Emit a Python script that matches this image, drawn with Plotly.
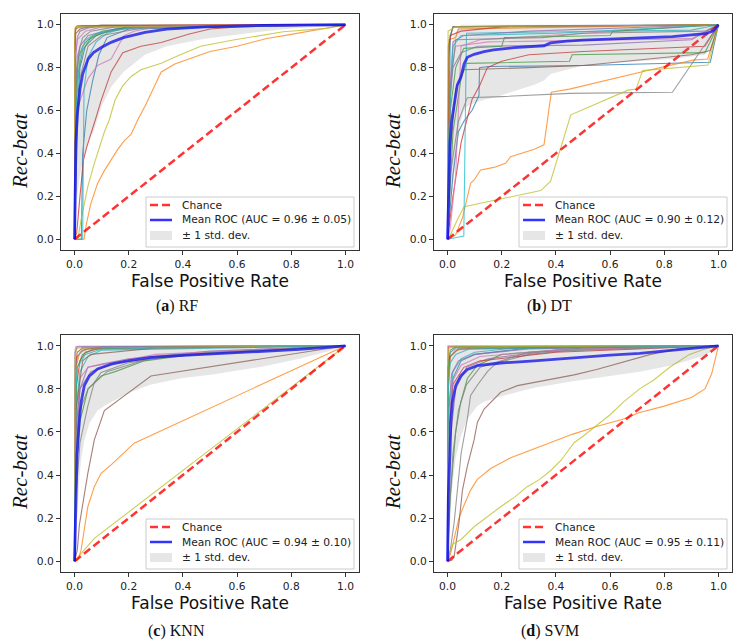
import plotly.graph_objects as go

# ---------------- data ----------------
tick_values = [0.0, 0.2, 0.4, 0.6, 0.8, 1.0]
panel_captions = ["(<b>a</b>) RF", "(<b>b</b>) DT", "(<b>c</b>) KNN", "(<b>d</b>) SVM"]
auc_mean = [0.96, 0.90, 0.94, 0.95]
auc_std = [0.05, 0.12, 0.10, 0.11]
chance_x = [0, 1]
chance_y = [0, 1]
fold_colors = ['#1f77b4', '#ff7f0e', '#2ca02c', '#d62728', '#9467bd',
               '#8c564b', '#e377c2', '#7f7f7f', '#bcbd22', '#17becf']

# ---- (a) RF ----
rf_fold_fpr = [
    [0, 0.025, 0.03, 0.045, 0.067, 0.09, 0.12, 0.2, 1],
    [0, 0.035, 0.045, 0.061, 0.085, 0.11, 0.135, 0.16, 0.184, 0.209, 0.233, 0.26, 0.29, 0.32, 0.37, 0.5, 0.6, 0.71, 0.8, 0.89, 0.95, 1],
    [0, 0.003, 0.01, 0.03, 0.06, 0.1, 0.2, 1],
    [0, 0.008, 0.02, 0.033, 0.045, 0.061, 0.08, 0.098, 0.135, 0.178, 0.245, 0.32, 0.42, 0.5, 0.6, 1],
    [0, 0.002, 0.01, 0.02, 0.05, 0.1, 1],
    [0, 0.002, 0.005, 0.02, 0.05, 0.1, 1],
    [0, 0.005, 0.01, 0.024, 0.05, 0.085, 0.135, 0.165, 0.184, 0.22, 0.3, 1],
    [0, 0.003, 0.01, 0.03, 0.06, 0.15, 1],
    [0, 0.012, 0.024, 0.049, 0.073, 0.098, 0.11, 0.128, 0.15, 0.178, 0.21, 0.245, 0.32, 0.39, 0.466, 0.586, 0.77, 0.93, 1],
    [0, 0.03, 0.035, 0.05, 0.08, 0.12, 0.2, 1],
    [0, 0.01, 0.02, 0.04, 0.08, 0.15, 0.3, 1],
    [0, 0.002, 0.005, 0.01, 0.03, 1],
    [0, 0.005, 0.015, 0.03, 0.05, 0.1, 0.2, 1],
    [0, 0.001, 0.003, 0.01, 1],
    [0, 0.005, 0.02, 0.05, 0.12, 0.25, 1],
    [0, 0.001, 0.005, 0.02, 1],
    [0, 0.002, 0.01, 0.04, 0.1, 1],
    [0, 0.01, 0.02, 0.05, 0.1, 0.25, 1],
    [0, 0.001, 0.004, 1],
    [0, 0.008, 0.02, 0.04, 0.08, 0.2, 1],
]
rf_fold_tpr = [
    [0, 0, 0.4, 0.6, 0.74, 0.86, 0.94, 0.98, 1],
    [0, 0, 0.08, 0.17, 0.26, 0.32, 0.37, 0.42, 0.46, 0.49, 0.556, 0.62, 0.7, 0.78, 0.817, 0.875, 0.9, 0.936, 0.955, 0.975, 0.99, 1],
    [0, 0.5, 0.75, 0.88, 0.94, 0.97, 0.99, 1],
    [0, 0.03, 0.2, 0.37, 0.43, 0.49, 0.57, 0.646, 0.78, 0.87, 0.9, 0.917, 0.956, 0.98, 0.99, 1],
    [0, 0.8, 0.94, 0.97, 0.985, 0.995, 1],
    [0, 0.9, 0.96, 0.98, 0.99, 0.998, 1],
    [0, 0.4, 0.6, 0.66, 0.75, 0.81, 0.84, 0.91, 0.95, 0.97, 0.99, 1],
    [0, 0.7, 0.85, 0.94, 0.97, 0.99, 1],
    [0, 0, 0.09, 0.245, 0.354, 0.46, 0.5, 0.556, 0.65, 0.716, 0.76, 0.79, 0.82, 0.86, 0.9, 0.929, 0.967, 0.983, 1],
    [0, 0, 0.7, 0.85, 0.92, 0.96, 0.99, 1],
    [0, 0.6, 0.8, 0.9, 0.95, 0.98, 0.995, 1],
    [0, 0.95, 0.98, 0.99, 0.995, 1],
    [0, 0.7, 0.85, 0.9, 0.93, 0.96, 0.99, 1],
    [0, 0.97, 0.985, 0.995, 1],
    [0, 0.75, 0.9, 0.95, 0.97, 0.99, 1],
    [0, 0.96, 0.98, 0.99, 1],
    [0, 0.85, 0.93, 0.97, 0.99, 1],
    [0, 0.5, 0.75, 0.9, 0.95, 0.985, 1],
    [0, 0.98, 0.99, 1],
    [0, 0.65, 0.85, 0.93, 0.96, 0.985, 1],
]
rf_grid = [0, 0.005, 0.01, 0.02, 0.03, 0.04, 0.05, 0.07, 0.1, 0.135, 0.18, 0.26, 0.34, 0.48, 0.6, 0.7, 0.8, 0.9, 1]
rf_mean = [0, 0.45, 0.58, 0.7, 0.77, 0.81, 0.84, 0.87, 0.895, 0.918, 0.94, 0.964, 0.98, 0.99, 0.995, 0.997, 0.998, 0.999, 1]
rf_lower = [0, 0.1, 0.2, 0.3, 0.37, 0.42, 0.46, 0.5, 0.62, 0.71, 0.78, 0.86, 0.9, 0.935, 0.955, 0.97, 0.982, 0.99, 1]
rf_upper = [0, 0.8, 0.95, 1, 1, 1, 1, 1, 1, 1, 1, 1, 1, 1, 1, 1, 1, 1, 1]

# ---- (b) DT ----
dt_fold_fpr = [
    [0, 0.02, 0.04, 0.06, 0.09, 0.116, 0.118, 0.15, 0.5, 0.97, 1],
    [0, 0.03, 0.055, 0.065, 0.075, 0.085, 0.1, 0.122, 0.171, 0.214, 0.233, 0.27, 0.32, 0.356, 0.368, 0.383, 0.45, 0.586, 0.75, 0.906, 0.96, 1],
    [0, 0.02, 0.05, 0.07, 0.45, 0.46, 0.95, 1],
    [0, 0.02, 0.05, 0.07, 0.09, 0.12, 0.147, 0.2, 0.3, 0.5, 0.95, 1],
    [0, 0.005, 0.02, 0.05, 0.11, 0.5, 0.9, 1],
    [0, 0.01, 0.03, 0.06, 0.3, 0.5, 0.9, 0.97, 1],
    [0, 0.01, 0.03, 0.04, 0.05, 0.12, 1],
    [0, 0.01, 0.04, 0.06, 0.073, 0.2, 0.3, 0.45, 0.83, 1],
    [0, 0.01, 0.04, 0.061, 0.344, 0.38, 0.455, 0.6, 0.666, 0.696, 0.72, 0.961, 1],
    [0, 0.06, 0.065, 0.07, 0.3, 0.9, 1],
    [0, 0.01, 0.02, 0.25, 1],
    [0, 0.005, 0.03, 0.04, 0.5, 1],
    [0, 0.01, 0.03, 0.06, 0.2, 0.21, 0.6, 0.61, 1],
    [0, 0.005, 0.01, 0.05, 0.2, 1],
    [0, 0.01, 0.02, 0.06, 0.3, 1],
    [0, 0.003, 0.02, 1],
    [0, 0.01, 0.03, 0.15, 0.9, 1],
    [0, 0.01, 0.03, 0.35, 0.5, 0.95, 1],
    [0, 0.002, 0.03, 1],
    [0, 0.005, 0.02, 0.05, 0.4, 1],
]
dt_fold_tpr = [
    [0, 0.3, 0.5, 0.55, 0.6, 0.67, 0.8, 0.805, 0.81, 0.825, 1],
    [0, 0.02, 0.1, 0.15, 0.2, 0.26, 0.28, 0.323, 0.335, 0.354, 0.385, 0.40, 0.42, 0.44, 0.556, 0.685, 0.7, 0.742, 0.79, 0.835, 0.84, 1],
    [0, 0.5, 0.75, 0.82, 0.83, 0.86, 0.87, 1],
    [0, 0.2, 0.45, 0.55, 0.65, 0.72, 0.8, 0.83, 0.86, 0.875, 0.9, 1],
    [0, 0.6, 0.8, 0.87, 0.9, 0.905, 0.93, 1],
    [0, 0.4, 0.7, 0.79, 0.8, 0.81, 0.86, 0.88, 1],
    [0, 0.05, 0.3, 0.6, 0.9, 0.93, 1],
    [0, 0.3, 0.55, 0.62, 0.66, 0.665, 0.67, 0.68, 0.685, 1],
    [0, 0.02, 0.1, 0.152, 0.227, 0.27, 0.58, 0.66, 0.695, 0.70, 0.786, 0.812, 1],
    [0, 0.015, 0.5, 0.96, 0.965, 0.975, 1],
    [0, 0.95, 0.99, 0.995, 1],
    [0, 0.93, 0.94, 0.98, 0.99, 1],
    [0, 0.6, 0.8, 0.89, 0.9, 0.94, 0.95, 0.97, 1],
    [0, 0.85, 0.95, 0.97, 0.99, 1],
    [0, 0.7, 0.92, 0.95, 0.97, 1],
    [0, 0.9, 0.99, 1],
    [0, 0.75, 0.9, 0.92, 0.935, 1],
    [0, 0.7, 0.93, 0.94, 0.96, 0.97, 1],
    [0, 0.97, 0.99, 1],
    [0, 0.5, 0.9, 0.95, 0.96, 1],
]
dt_grid = [0, 0.003, 0.009, 0.015, 0.024, 0.036, 0.049, 0.061, 0.073, 0.098, 0.135, 0.17, 0.245, 0.32, 0.356, 0.38, 0.44, 0.5, 0.6, 0.7, 0.83, 0.95, 0.98, 1]
dt_mean = [0, 0.2, 0.45, 0.55, 0.63, 0.72, 0.755, 0.817, 0.848, 0.862, 0.875, 0.883, 0.893, 0.897, 0.902, 0.915, 0.924, 0.928, 0.933, 0.938, 0.945, 0.958, 0.97, 1]
dt_lower = [0, 0.02, 0.1, 0.2, 0.3, 0.45, 0.55, 0.6, 0.62, 0.635, 0.65, 0.66, 0.69, 0.72, 0.74, 0.77, 0.79, 0.81, 0.82, 0.83, 0.84, 0.86, 0.9, 1]
dt_upper = [0, 0.45, 0.8, 0.9, 0.95, 0.98, 1, 1, 1, 1, 1, 1, 1, 1, 1, 1, 1, 1, 1, 1, 1, 1, 1, 1]

# ---- (c) KNN ----
knn_fold_fpr = [
    [0, 0.003, 0.01, 0.03, 0.1, 1],
    [0, 0.012, 0.024, 0.036, 0.049, 0.073, 0.098, 0.135, 0.22, 1],
    [0, 0.005, 0.02, 0.05, 0.098, 0.15, 0.258, 0.5, 1],
    [0, 0.005, 0.02, 0.04, 0.1, 1],
    [0, 0.005, 0.02, 0.049, 0.1, 0.2, 0.5, 1],
    [0, 0.01, 0.018, 0.049, 0.073, 0.11, 0.282, 1],
    [0, 0.005, 0.02, 0.05, 0.15, 0.3, 1],
    [0, 0.005, 0.02, 0.049, 0.073, 0.098, 0.196, 0.4, 1],
    [0, 0.073, 1],
    [0, 0.005, 0.02, 0.05, 0.1, 1],
    [0, 0.002, 0.01, 1],
    [0, 0.005, 0.02, 0.05, 1],
    [0, 0.005, 0.01, 0.03, 0.07, 0.3, 1],
    [0, 0.003, 0.01, 0.03, 1],
    [0, 0.005, 0.02, 0.06, 0.15, 0.35, 1],
    [0, 0.005, 0.03, 0.06, 0.3, 1],
    [0, 0.002, 0.005, 1],
    [0, 0.005, 0.02, 0.05, 0.12, 0.3, 1],
    [0, 0.002, 0.01, 1],
    [0, 0.005, 0.01, 0.04, 0.1, 1],
]
knn_fold_tpr = [
    [0, 0.85, 0.95, 0.98, 0.995, 1],
    [0, 0.006, 0.05, 0.145, 0.253, 0.346, 0.408, 0.447, 0.548, 1],
    [0, 0.4, 0.65, 0.8, 0.86, 0.88, 0.93, 0.97, 1],
    [0, 0.8, 0.93, 0.97, 0.99, 1],
    [0, 0.5, 0.8, 0.9, 0.915, 0.94, 0.975, 1],
    [0, 0.05, 0.17, 0.408, 0.563, 0.699, 0.86, 1],
    [0, 0.6, 0.85, 0.9, 0.925, 0.96, 1],
    [0, 0.3, 0.55, 0.72, 0.83, 0.876, 0.92, 0.96, 1],
    [0, 0.106, 1],
    [0, 0.7, 0.88, 0.95, 0.98, 1],
    [0, 0.97, 0.995, 1],
    [0, 0.9, 0.97, 0.985, 1],
    [0, 0.7, 0.9, 0.96, 0.985, 0.995, 1],
    [0, 0.9, 0.97, 0.99, 1],
    [0, 0.6, 0.8, 0.88, 0.92, 0.95, 1],
    [0, 0.7, 0.93, 0.96, 0.99, 1],
    [0, 0.98, 0.998, 1],
    [0, 0.5, 0.7, 0.8, 0.88, 0.95, 1],
    [0, 0.95, 0.99, 1],
    [0, 0.8, 0.9, 0.96, 0.985, 1],
]
knn_grid = [0, 0.004, 0.009, 0.018, 0.024, 0.036, 0.055, 0.085, 0.11, 0.135, 0.196, 0.282, 0.4, 0.504, 0.6, 0.7, 0.83, 0.955, 1]
knn_mean = [0, 0.3, 0.49, 0.66, 0.737, 0.815, 0.86, 0.892, 0.905, 0.915, 0.93, 0.946, 0.955, 0.962, 0.967, 0.972, 0.983, 0.995, 1]
knn_lower = [0, 0.05, 0.2, 0.38, 0.47, 0.56, 0.64, 0.7, 0.72, 0.74, 0.78, 0.82, 0.85, 0.865, 0.885, 0.905, 0.94, 0.98, 1]
knn_upper = [0, 0.55, 0.78, 0.94, 1, 1, 1, 1, 1, 1, 1, 1, 1, 1, 1, 1, 1, 1, 1]

# ---- (d) SVM ----
svm_fold_fpr = [
    [0, 0.005, 0.02, 0.05, 0.1, 0.3, 1],
    [0, 0.01, 0.02, 0.03, 0.042, 0.061, 0.085, 0.11, 0.159, 0.233, 0.319, 0.4, 0.463, 0.55, 0.65, 0.709, 0.8, 0.9, 0.95, 0.975, 0.99, 1],
    [0, 0.01, 0.03, 0.049, 0.073, 0.11, 0.2, 0.5, 1],
    [0, 0.001, 0.003, 1],
    [0, 0.005, 0.03, 0.07, 0.15, 0.4, 1],
    [0, 0.015, 0.024, 0.042, 0.055, 0.073, 0.098, 0.11, 0.135, 0.196, 0.258, 0.32, 0.38, 0.467, 0.55, 0.65, 0.75, 0.85, 1],
    [0, 0, 0.001, 1],
    [0, 0.01, 0.024, 0.036, 0.05, 0.073, 0.085, 0.11, 0.147, 0.172, 0.196, 0.3, 0.5, 1],
    [0, 0.01, 0.02, 0.049, 0.098, 0.15, 0.196, 0.25, 0.294, 0.34, 0.38, 0.42, 0.467, 0.5, 0.55, 0.6, 0.65, 0.709, 0.76, 0.82, 0.893, 0.95, 1],
    [0, 0.005, 0.02, 0.05, 0.1, 0.25, 1],
    [0, 0.002, 0.01, 0.03, 1],
    [0, 0.003, 0.01, 0.03, 0.1, 1],
    [0, 0.003, 0.01, 0.03, 1],
    [0, 0.005, 0.02, 0.06, 0.12, 0.4, 1],
    [0, 0.004, 0.015, 0.04, 0.1, 0.3, 1],
    [0, 0.003, 0.01, 0.04, 1],
    [0, 0.005, 0.02, 0.05, 0.12, 0.4, 1],
    [0, 0.005, 0.02, 0.04, 0.07, 0.12, 0.3, 1],
    [0, 0.002, 0.006, 0.02, 1],
    [0, 0.003, 0.01, 0.03, 0.08, 1],
]
svm_fold_tpr = [
    [0, 0.6, 0.85, 0.93, 0.96, 0.99, 1],
    [0, 0.03, 0.08, 0.14, 0.2, 0.26, 0.33, 0.38, 0.43, 0.48, 0.52, 0.56, 0.59, 0.625, 0.66, 0.69, 0.72, 0.76, 0.8, 0.87, 0.95, 1],
    [0, 0.3, 0.6, 0.74, 0.848, 0.91, 0.96, 0.99, 1],
    [0, 0.98, 0.995, 1],
    [0, 0.5, 0.8, 0.9, 0.94, 0.98, 1],
    [0, 0.005, 0.02, 0.176, 0.33, 0.44, 0.563, 0.644, 0.706, 0.784, 0.815, 0.83, 0.845, 0.865, 0.89, 0.925, 0.96, 0.985, 1],
    [0, 0.99, 1, 1],
    [0, 0.05, 0.176, 0.33, 0.5, 0.66, 0.77, 0.817, 0.88, 0.91, 0.925, 0.96, 0.985, 1],
    [0, 0.05, 0.08, 0.1, 0.16, 0.21, 0.253, 0.3, 0.346, 0.38, 0.42, 0.47, 0.55, 0.58, 0.63, 0.68, 0.74, 0.8, 0.84, 0.9, 0.96, 0.985, 1],
    [0, 0.7, 0.88, 0.94, 0.97, 0.99, 1],
    [0, 0.9, 0.97, 0.99, 1],
    [0, 0.8, 0.95, 0.98, 0.99, 1],
    [0, 0.9, 0.98, 0.995, 1],
    [0, 0.6, 0.82, 0.9, 0.93, 0.97, 1],
    [0, 0.7, 0.87, 0.93, 0.96, 0.985, 1],
    [0, 0.85, 0.95, 0.985, 1],
    [0, 0.65, 0.84, 0.91, 0.95, 0.98, 1],
    [0, 0.2, 0.5, 0.7, 0.82, 0.9, 0.97, 1],
    [0, 0.95, 0.99, 0.995, 1],
    [0, 0.8, 0.92, 0.96, 0.985, 1],
]
svm_grid = [0, 0.003, 0.009, 0.012, 0.018, 0.03, 0.049, 0.073, 0.11, 0.135, 0.196, 0.32, 0.463, 0.5, 0.6, 0.709, 0.83, 0.955, 1]
svm_mean = [0, 0.3, 0.5, 0.645, 0.74, 0.815, 0.86, 0.89, 0.908, 0.912, 0.92, 0.93, 0.945, 0.95, 0.957, 0.965, 0.98, 0.995, 1]
svm_lower = [0, 0.02, 0.15, 0.25, 0.35, 0.48, 0.58, 0.66, 0.72, 0.74, 0.765, 0.805, 0.835, 0.845, 0.86, 0.88, 0.91, 0.957, 1]
svm_upper = [0, 0.58, 0.85, 0.95, 1, 1, 1, 1, 1, 1, 1, 1, 1, 1, 1, 1, 1, 1, 1]

# ---------------- layout geometry (target-image pixels) ----------------
PAGE_OFF = 8          # default page margin that shifts the figure in the browser
W, H = 746 - PAGE_OFF, 644 - PAGE_OFF
# plot boxes: left, top, right, bottom
boxes = [(61, 14, 359, 250), (434, 14, 732, 250), (61, 335, 359, 572), (434, 335, 732, 572)]
caption_pos = [(176.5, 306), (549, 306), (176.5, 631), (550, 631)]


def pxx(x):
    return (x - PAGE_OFF) / W


def pxy(y):
    return 1 - (y - PAGE_OFF) / H


panels = [
    (rf_fold_fpr, rf_fold_tpr, rf_grid, rf_mean, rf_lower, rf_upper),
    (dt_fold_fpr, dt_fold_tpr, dt_grid, dt_mean, dt_lower, dt_upper),
    (knn_fold_fpr, knn_fold_tpr, knn_grid, knn_mean, knn_lower, knn_upper),
    (svm_fold_fpr, svm_fold_tpr, svm_grid, svm_mean, svm_lower, svm_upper),
]

fig = go.Figure()
TICK_FONT = dict(family="DejaVu Sans", size=10.7, color="#222222")
shapes = []
annotations = []

for i, (ffpr, ftpr, grid, mean, lo, hi) in enumerate(panels):
    n = i + 1
    xa = "x" if n == 1 else f"x{n}"
    ya = "y" if n == 1 else f"y{n}"
    for k, (fx, fy) in enumerate(zip(ffpr, ftpr)):
        fig.add_trace(go.Scatter(x=fx, y=fy, mode="lines", xaxis=xa, yaxis=ya,
                                 line=dict(color=fold_colors[k % 10], width=1.1),
                                 opacity=0.75, showlegend=False, hoverinfo="skip"))
    fig.add_trace(go.Scatter(x=chance_x, y=chance_y, mode="lines", xaxis=xa, yaxis=ya,
                             line=dict(color="rgba(255,0,0,0.8)", width=2.5, dash="8px,4px"),
                             showlegend=False, name="Chance"))
    fig.add_trace(go.Scatter(x=grid, y=mean, mode="lines", xaxis=xa, yaxis=ya,
                             line=dict(color="rgba(0,0,255,0.8)", width=2.8),
                             showlegend=False, name="Mean ROC"))
    fig.add_trace(go.Scatter(x=list(grid) + list(grid[::-1]), y=list(hi) + list(lo[::-1]),
                             mode="lines", fill="toself", fillcolor="rgba(128,128,128,0.2)",
                             line=dict(width=0), xaxis=xa, yaxis=ya, showlegend=False,
                             hoverinfo="skip"))

    L, T, R, B = boxes[i]
    axis_common = dict(range=[-0.05, 1.05], tickvals=tick_values, tickformat=".1f",
                       showgrid=False, zeroline=False, showline=True, mirror=True,
                       linecolor="#333333", linewidth=1, ticks="outside", ticklen=4,
                       tickwidth=1, tickcolor="#333333", tickfont=TICK_FONT)
    xkey = "xaxis" if n == 1 else f"xaxis{n}"
    ykey = "yaxis" if n == 1 else f"yaxis{n}"
    fig.layout[xkey] = dict(domain=[pxx(L), pxx(R)], anchor=ya, **axis_common)
    fig.layout[ykey] = dict(domain=[pxy(B), pxy(T)], anchor=xa, **axis_common)

    # axis titles
    annotations.append(dict(x=pxx((L + R) / 2), y=pxy(B + 31), xref="paper", yref="paper",
                            text="False Positive Rate", showarrow=False,
                            font=dict(family="DejaVu Sans", size=17, color="#111111"),
                            xanchor="center", yanchor="middle"))
    annotations.append(dict(x=pxx(L - 41), y=pxy(T + 137), xref="paper", yref="paper",
                            text="<i>Rec-beat</i>", showarrow=False, textangle=-90,
                            font=dict(family="Liberation Serif", size=21, color="#111111"),
                            xanchor="center", yanchor="middle"))
    cx, cy = caption_pos[i]
    annotations.append(dict(x=pxx(cx), y=pxy(cy), xref="paper", yref="paper",
                            text=panel_captions[i], showarrow=False,
                            font=dict(family="Liberation Serif", size=16, color="#111111"),
                            xanchor="center", yanchor="middle"))

    # legend box (drawn)
    shapes.append(dict(type="rect", xref="paper", yref="paper",
                       x0=pxx(L + 85), x1=pxx(L + 293), y0=pxy(B - 3), y1=pxy(B - 53),
                       fillcolor="rgba(255,255,255,0.8)", line=dict(color="#cccccc", width=1),
                       layer="above"))
    shapes.append(dict(type="line", xref="paper", yref="paper",
                       x0=pxx(L + 89), x1=pxx(L + 111), y0=pxy(B - 45), y1=pxy(B - 45),
                       line=dict(color="rgba(255,0,0,0.8)", width=2.5, dash="8px,4px"),
                       layer="above"))
    shapes.append(dict(type="line", xref="paper", yref="paper",
                       x0=pxx(L + 89), x1=pxx(L + 111), y0=pxy(B - 30), y1=pxy(B - 30),
                       line=dict(color="rgba(0,0,255,0.8)", width=2.5), layer="above"))
    shapes.append(dict(type="rect", xref="paper", yref="paper",
                       x0=pxx(L + 89), x1=pxx(L + 111), y0=pxy(B - 10), y1=pxy(B - 19),
                       fillcolor="rgba(128,128,128,0.2)", line=dict(width=0), layer="above"))
    legend_texts = ["Chance",
                    f"Mean ROC (AUC = {auc_mean[i]:.2f} ± {auc_std[i]:.2f})",
                    "± 1 std. dev."]
    for txt, off in zip(legend_texts, [45, 30, 14.5]):
        annotations.append(dict(x=pxx(L + 119), y=pxy(B - off), xref="paper", yref="paper",
                                text=txt, showarrow=False, xanchor="left", yanchor="middle",
                                font=dict(family="DejaVu Sans", size=10.7, color="#222222")))

fig.update_layout(width=W, height=H, margin=dict(l=0, r=0, t=0, b=0),
                  paper_bgcolor="white", plot_bgcolor="white",
                  shapes=shapes, annotations=annotations, showlegend=False)

fig.write_html("out.html")
